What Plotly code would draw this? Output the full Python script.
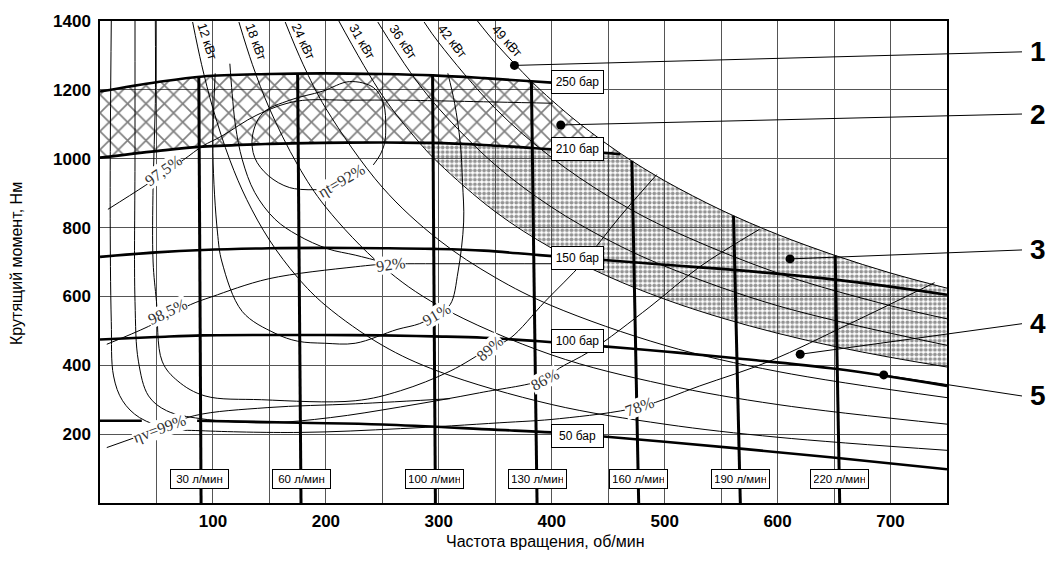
import plotly.graph_objects as go

# ---------------- axes ----------------
X_TICKS = [100, 200, 300, 400, 500, 600, 700]
Y_TICKS = [200, 400, 600, 800, 1000, 1200, 1400]

# ---------------- pressure isolines (n [rpm], T [Nm]) ----------------
P250_N = [0, 50, 91, 150, 197, 250, 295, 340, 382, 400]
P250_T = [1195, 1222, 1239, 1246, 1248, 1246, 1242, 1234, 1225, 1221]
P210_N = [0, 50, 91, 150, 197, 250, 283, 295, 340, 383, 400, 446, 461]
P210_T = [1003, 1022, 1035, 1043, 1046, 1047, 1046, 1046, 1040, 1031, 1027, 1017, 1013]
P150_N = [0, 50, 91, 150, 197, 250, 295, 340, 389, 446, 500, 561, 653, 750]
P150_T = [715, 728, 735, 740, 741, 740, 738, 733, 720, 706, 692, 677, 648, 605]
P100_N = [0, 50, 91, 150, 197, 250, 295, 340, 389, 446, 500, 561, 653, 750]
P100_T = [475, 482, 487, 488, 488, 487, 484, 480, 470, 455, 440, 421, 389, 340]
P50A_N = [0, 37]
P50A_T = [239, 239]
P50B_N = [86, 177, 250, 349, 400, 446, 500, 567, 649, 750]
P50B_T = [239, 233, 228, 213, 205, 193, 178, 158, 132, 98]
P_LABELS = ["250 бар", "210 бар", "150 бар", "100 бар", "50 бар"]
P_LABEL_T = [1222, 1029, 712, 470, 196]
P_LABEL_N = 423

# ---------------- flow lines ----------------
Q_LABELS = ["30 л/мин", "60 л/мин", "100 л/мин", "130 л/мин", "160 л/мин", "190 л/мин", "220 л/мин"]
Q_TOP_N = [87.5, 175, 294.5, 382, 471, 561, 651]
Q_TOP_T = [1240, 1248, 1242, 1225, 994, 834, 719]
Q_BOT_N = [89.5, 178, 297, 387, 477, 567, 655]
Q_LABEL_N = [87.7, 178, 296, 387.6, 476.5, 566.8, 654.5]
Q_LABEL_T = 69

# ---------------- power lines ----------------
PW12_N = [82, 90, 100, 115, 130, 150, 175, 200, 250, 300, 400, 500, 600, 750]
PW12_T = [1397, 1273, 1146, 996, 881, 764, 655, 573, 458, 382, 286, 229, 191, 153]
PW18_N = [123, 135, 150, 175, 200, 250, 300, 400, 500, 600, 750]
PW18_T = [1397, 1273, 1146, 982, 859, 688, 573, 430, 344, 286, 229]
PW24_N = [164, 180, 200, 250, 300, 350, 400, 500, 600, 750]
PW24_T = [1397, 1273, 1146, 917, 764, 655, 573, 458, 382, 306]
PW31_N = [211, 250, 283, 300, 350, 400, 450, 500, 550, 600, 650, 700, 750]
PW31_T = [1403, 1184, 1046, 987, 846, 740, 658, 592, 538, 493, 455, 423, 395]
PW36_N = [246, 275, 300, 350, 400, 450, 500, 600, 750]
PW36_T = [1397, 1250, 1146, 982, 859, 764, 688, 573, 458]
PW42_N = [287, 300, 350, 400, 450, 500, 600, 700, 750]
PW42_T = [1397, 1337, 1146, 1003, 891, 802, 668, 573, 535]
PW49_N = [334, 350, 382, 400, 425, 461, 500, 550, 600, 650, 700, 750]
PW49_T = [1401, 1337, 1225, 1170, 1101, 1015, 936, 851, 780, 720, 668, 624]
KW_LABELS = ["12 кВт", "18 кВт", "24 кВт", "31 кВт", "36 кВт", "42 кВт", "49 кВт"]
KW_LABEL_N = [95, 138, 180, 232, 268, 312, 360]
KW_LABEL_T = [1340, 1340, 1340, 1340, 1340, 1340, 1343]
KW_ANGLE = [72, 70, 65, 60, 56, 52, 48]

# ---------------- efficiency lines ----------------
E975_N = [7, 40, 74, 91, 108, 139, 174, 221, 266, 316, 401]
E975_T = [853, 922, 997, 1037, 1066, 1127, 1167, 1170, 1170, 1167, 1161]
E985_N = [6, 43, 80, 99, 149, 226, 257, 272, 401]
E985_T = [461, 513, 576, 599, 651, 686, 695, 695, 695]
EV99_N = [6, 53, 84, 148, 226, 310]
EV99_T = [161, 216, 254, 277, 288, 303]
ET92_N = [192, 168, 149, 137, 135, 144, 168, 197, 221, 242, 251, 253, 252, 248, 242]
ET92_T = [910, 916, 951, 1003, 1066, 1132, 1170, 1196, 1224, 1207, 1161, 1089, 1046, 1011, 982]
E92_N = [115, 117, 120, 126, 137, 155, 175, 202, 226, 257]
E92_T = [1276, 1190, 1095, 997, 902, 824, 778, 738, 720, 694]
E91_N = [102, 100, 104, 108, 126, 155, 175, 199, 226, 263, 283, 298, 310, 317, 322, 321, 319, 314, 308]
E91_T = [1248, 1017, 787, 700, 556, 493, 470, 464, 464, 504, 521, 547, 576, 671, 816, 931, 1046, 1161, 1248]
E89_N = [49, 49, 47, 47, 50, 55, 69, 93, 143, 226, 266, 310, 345, 363, 394, 428, 460, 493]
E89_T = [1400, 1161, 922, 700, 585, 412, 354, 311, 300, 297, 326, 383, 449, 478, 585, 700, 830, 954]
E86_N = [31, 31, 31, 34, 43, 59, 89, 148, 204, 266, 336, 394, 407, 434, 487, 531, 584]
E86_T = [1400, 1017, 585, 412, 311, 268, 245, 233, 248, 279, 320, 360, 392, 441, 570, 686, 795]
E78_N = [10, 9, 10, 12, 20, 35, 62, 89, 177, 266, 354, 407, 478, 531, 593, 664, 739]
E78_T = [1400, 873, 527, 369, 297, 248, 216, 210, 205, 216, 233, 245, 279, 340, 412, 521, 640]
EFF_LABELS = ["97,5%", "ηt=92%", "92%", "98,5%", "91%", "89%", "86%", "78%", "ηv=99%"]
EFF_N = [56, 214, 257, 60, 298, 345, 394, 478, 53]
EFF_T = [965, 936, 694, 556, 547, 449, 360, 279, 216]
EFF_ANGLE = [-35, -30, -8, -25, -30, -42, -28, -20, -20]

# ---------------- numbered callouts ----------------
CALL_LABELS = ["1", "2", "3", "4", "5"]
CALL_N = [367, 408, 611, 620, 694]
CALL_T = [1271, 1098, 709, 432, 372]
CALL_Y_PAPER = [0.936, 0.807, 0.525, 0.372, 0.222]

XMAX, YMAX = 750, 1400

fig = go.Figure()


def add_line(nn, tt, width, shape="spline", color="black"):
    fig.add_trace(go.Scatter(x=nn, y=tt, mode="lines",
                             line=dict(color=color, width=width, shape=shape),
                             hoverinfo="skip", showlegend=False))


# cross-hatched zone (210..250 bar, limited by 49 kW)
hz = [(n, t) for n, t in zip(P250_N, P250_T) if n <= 382]
hz += [(n, t) for n, t in zip(PW49_N, PW49_T) if 382 < n < 461]
hz += list(zip(P210_N, P210_T))[::-1]
fig.add_trace(go.Scatter(x=[p[0] for p in hz], y=[p[1] for p in hz], mode="lines",
                         fill="toself", fillcolor="rgba(0,0,0,0)",
                         fillpattern=dict(shape="x", size=13, solidity=0.24,
                                          fgcolor="black", bgcolor="rgba(0,0,0,0)"),
                         line=dict(width=0), hoverinfo="skip", showlegend=False))

# dotted zone (between 31 kW and 49 kW, below 210 bar)
dz = [(n, t) for n, t in zip(P210_N, P210_T) if n >= 283]
dz += [(n, t) for n, t in zip(PW49_N, PW49_T) if n > 461]
dz += [(n, t) for n, t in zip(PW31_N, PW31_T) if n >= 283][::-1]
fig.add_trace(go.Scatter(x=[p[0] for p in dz], y=[p[1] for p in dz], mode="lines",
                         fill="toself", fillcolor="rgba(0,0,0,0)",
                         fillpattern=dict(shape=".", size=4.6, solidity=0.55,
                                          fgcolor="#2a2a2a", bgcolor="rgba(0,0,0,0)"),
                         line=dict(width=0), hoverinfo="skip", showlegend=False))

# efficiency curves
for nn, tt in [(E975_N, E975_T), (E985_N, E985_T), (EV99_N, EV99_T), (ET92_N, ET92_T),
               (E92_N, E92_T), (E91_N, E91_T), (E89_N, E89_T), (E86_N, E86_T), (E78_N, E78_T)]:
    add_line(nn, tt, 1.0)

# power curves
for nn, tt in [(PW12_N, PW12_T), (PW18_N, PW18_T), (PW24_N, PW24_T), (PW31_N, PW31_T),
               (PW36_N, PW36_T), (PW42_N, PW42_T), (PW49_N, PW49_T)]:
    add_line(nn, tt, 1.0)

# pressure curves
for nn, tt in [(P250_N, P250_T), (P210_N, P210_T), (P150_N, P150_T), (P100_N, P100_T),
               (P50A_N, P50A_T), (P50B_N, P50B_T)]:
    add_line(nn, tt, 2.6)

# flow lines
for i in range(len(Q_LABELS)):
    add_line([Q_TOP_N[i], Q_BOT_N[i]], [Q_TOP_T[i], 0], 3.0, shape="linear")

# callout dots
fig.add_trace(go.Scatter(x=CALL_N, y=CALL_T, mode="markers",
                         marker=dict(color="black", size=9), cliponaxis=False,
                         hoverinfo="skip", showlegend=False))

annotations = []
box_font = dict(family="Liberation Sans, Arial", size=12, color="black")
for lab, t in zip(P_LABELS, P_LABEL_T):
    annotations.append(dict(x=P_LABEL_N, y=t, xref="x", yref="y", text=lab, showarrow=False,
                            font=box_font, bgcolor="white", bordercolor="black",
                            borderwidth=1, borderpad=4, width=43))
for lab, n in zip(Q_LABELS, Q_LABEL_N):
    annotations.append(dict(x=n, y=Q_LABEL_T, xref="x", yref="y", text=lab, showarrow=False,
                            font=dict(family="Liberation Sans, Arial", size=11.5, color="black"),
                            bgcolor="white", bordercolor="black",
                            borderwidth=1, borderpad=3, width=51))
for lab, n, t, a in zip(KW_LABELS, KW_LABEL_N, KW_LABEL_T, KW_ANGLE):
    annotations.append(dict(x=n, y=t, xref="x", yref="y", text=lab, showarrow=False,
                            font=dict(family="Liberation Sans, Arial", size=13, color="black"),
                            textangle=a))
for lab, n, t, a in zip(EFF_LABELS, EFF_N, EFF_T, EFF_ANGLE):
    annotations.append(dict(x=n, y=t, xref="x", yref="y", text=lab, showarrow=False,
                            font=dict(family="Liberation Serif", size=16, color="#333"),
                            textangle=a, bgcolor="white", borderpad=0))

# numbered callouts with leader lines (paper coords)
shapes = []
LEAD_END_X = (1022 - 100) / 847
LABEL_X = (1038 - 100) / 847
for lab, n, t, yp in zip(CALL_LABELS, CALL_N, CALL_T, CALL_Y_PAPER):
    shapes.append(dict(type="line", xref="paper", yref="paper",
                       x0=n / XMAX, y0=t / YMAX, x1=LEAD_END_X, y1=yp,
                       line=dict(color="black", width=1)))
    annotations.append(dict(x=LABEL_X, y=yp, xref="paper", yref="paper", text=lab,
                            showarrow=False, xanchor="center", yanchor="middle",
                            font=dict(family="Liberation Sans, Arial", size=28,
                                      color="black", weight="bold")))

# axis titles
annotations.append(dict(x=(545 - 100) / 847, y=(503 - 542) / 486, xref="paper", yref="paper",
                        text="Частота вращения, об/мин", showarrow=False,
                        xanchor="center", yanchor="middle",
                        font=dict(family="Liberation Sans, Arial", size=16, color="black")))
annotations.append(dict(x=(17 - 100) / 847, y=(503 - 262) / 486, xref="paper", yref="paper",
                        text="Крутящий момент, Нм", showarrow=False, textangle=-90,
                        xanchor="center", yanchor="middle",
                        font=dict(family="Liberation Sans, Arial", size=16, color="black")))

tickfont = dict(family="Liberation Sans, Arial", size=17, color="black", weight="bold")
fig.update_layout(
    width=1052, height=561,
    margin=dict(l=100, r=105, t=17, b=58),
    plot_bgcolor="white", paper_bgcolor="white",
    showlegend=False,
    xaxis=dict(range=[0, XMAX], tickvals=X_TICKS, showgrid=True, gridcolor="#555", gridwidth=1,
               minor=dict(dtick=50, tick0=0, showgrid=True, gridcolor="#555", gridwidth=1),
               showline=True, linecolor="black", linewidth=1.5, mirror=True,
               zeroline=False, ticks="", tickfont=tickfont, ticklabelstandoff=2),
    yaxis=dict(range=[0, YMAX], tickvals=Y_TICKS, showgrid=True, gridcolor="#555", gridwidth=1,
               showline=True, linecolor="black", linewidth=1.5, mirror=True,
               zeroline=False, ticks="", tickfont=tickfont, ticklabelstandoff=4),
    annotations=annotations,
    shapes=shapes,
)

fig.write_html("out.html", config={"displayModeBar": False},
               post_script="document.body.style.margin='0';document.body.style.overflow='hidden';")
